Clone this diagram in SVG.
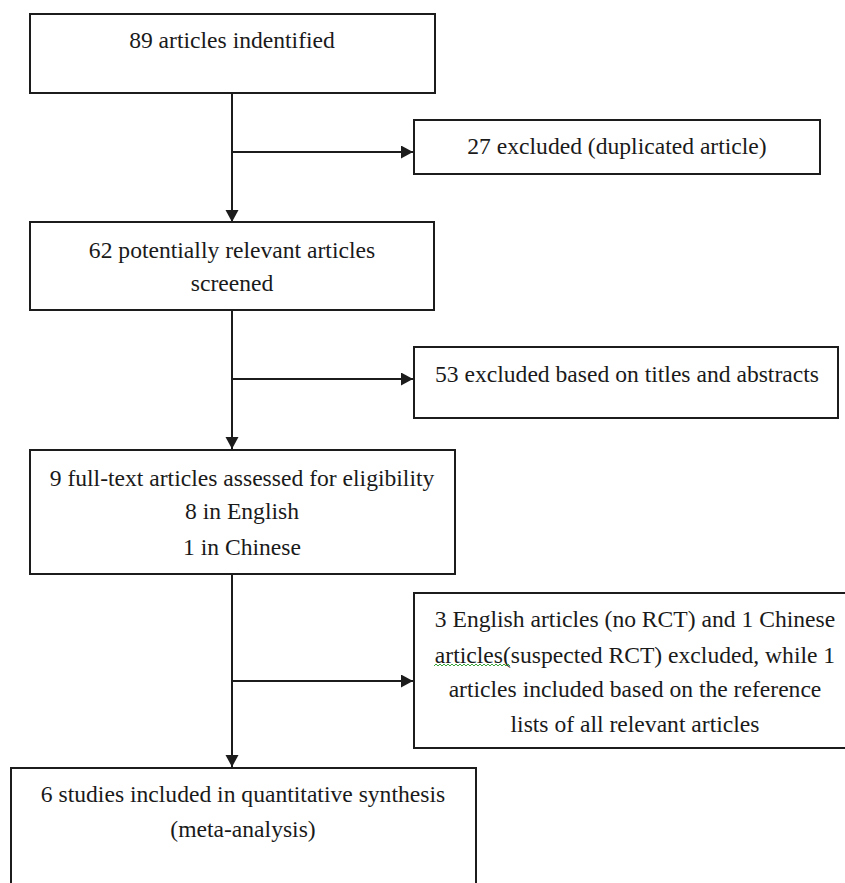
<svg xmlns="http://www.w3.org/2000/svg" width="845" height="883" viewBox="0 0 845 883">
<style>
  .box { fill: #ffffff; stroke: #1c1c1c; stroke-width: 2; }
  .lbl { font-family: "Liberation Serif", "Times New Roman", serif; font-size: 23.6px; fill: #1a1a1a; text-anchor: middle; }
  .conn { fill: none; stroke: #1c1c1c; stroke-width: 2; marker-end: url(#arrow); }
</style>
<defs>
  <marker id="arrow" markerUnits="userSpaceOnUse" markerWidth="14" markerHeight="14" refX="12" refY="6.5" orient="auto">
    <path d="M0,0 L12,6.5 L0,13 Z" fill="#1c1c1c"/>
  </marker>
</defs>
<rect width="845" height="883" fill="#ffffff"/>

<g id="connectors">
  <path class="conn" d="M232,93 V222"/>
  <path class="conn" d="M232,152 H413"/>
  <path class="conn" d="M232,310 V449"/>
  <path class="conn" d="M232,379 H413"/>
  <path class="conn" d="M232,574 V767"/>
  <path class="conn" d="M232,681 H413"/>
</g>

<g id="n1">
  <rect class="box" x="30" y="14" width="405" height="79"/>
  <text class="lbl" x="232" y="48">89 articles indentified</text>
</g>

<g id="n2">
  <rect class="box" x="414" y="120" width="406" height="54"/>
  <text class="lbl" x="617" y="154">27 excluded (duplicated article)</text>
</g>

<g id="n3">
  <rect class="box" x="30" y="222" width="404" height="88"/>
  <text class="lbl" x="232" y="258">62 potentially relevant articles</text>
  <text class="lbl" x="232" y="291">screened</text>
</g>

<g id="n4">
  <rect class="box" x="414" y="347" width="424" height="71"/>
  <text class="lbl" x="627" y="382">53 excluded based on titles and abstracts</text>
</g>

<g id="n5">
  <rect class="box" x="30" y="450" width="425" height="124"/>
  <text class="lbl" x="242" y="486">9 full-text articles assessed for eligibility</text>
  <text class="lbl" x="242" y="519">8 in English</text>
  <text class="lbl" x="242" y="555">1 in Chinese</text>
</g>

<g id="n6">
  <rect class="box" x="414" y="593" width="440" height="155"/>
  <text class="lbl" x="635" y="627">3 English articles (no RCT) and 1 Chinese</text>
  <text class="lbl" x="635" y="663">articles(suspected RCT) excluded, while 1</text>
  <text class="lbl" x="635" y="697">articles included based on the reference</text>
  <text class="lbl" x="635" y="732">lists of all relevant articles</text>
  <path d="M434,666 l2,-2 l2,2 l2,-2 l2,2 l2,-2 l2,2 l2,-2 l2,2 l2,-2 l2,2 l2,-2 l2,2 l2,-2 l2,2 l2,-2 l2,2 l2,-2 l2,2 l2,-2 l2,2 l2,-2 l2,2 l2,-2 l2,2 l2,-2 l2,2 l2,-2 l2,2 l2,-2 l2,2 l2,-2 l2,2 l2,-2 l2,2 l2,-2 l2,2 l2,-2 l2,2" fill="none" stroke="#3aa53a" stroke-width="1"/>
</g>

<g id="n7">
  <rect class="box" x="11" y="768" width="465" height="130"/>
  <text class="lbl" x="243" y="802">6 studies included in quantitative synthesis</text>
  <text class="lbl" x="243" y="837">(meta-analysis)</text>
</g>
</svg>
